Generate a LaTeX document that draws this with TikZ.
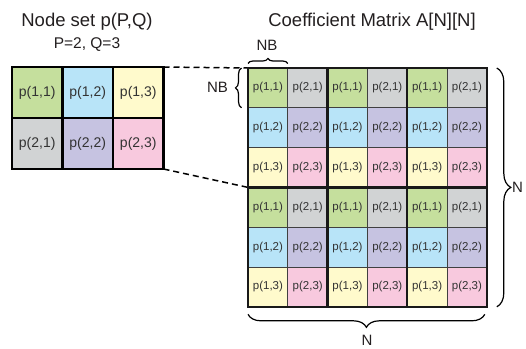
\documentclass[tikz,border=0pt]{standalone}
\usepackage{fontspec}
\setmainfont{Liberation Sans}
\usetikzlibrary{decorations.pathreplacing}
\definecolor{c11}{HTML}{C5DF9D}
\definecolor{c12}{HTML}{B8E4F8}
\definecolor{c13}{HTML}{FFFACC}
\definecolor{c21}{HTML}{D1D3D4}
\definecolor{c22}{HTML}{C6C3E1}
\definecolor{c23}{HTML}{F8C9DE}
\definecolor{txt}{HTML}{333333}
\definecolor{ttl}{HTML}{231F20}
\begin{document}
\begin{tikzpicture}[x=1pt,y=-1pt,
  cellL/.style={draw=black, line width=2.5pt, minimum width=50.5pt, minimum height=51pt,
    inner sep=0pt, outer sep=0pt, font=\fontsize{14}{16}\selectfont, text=txt},
  cellR/.style={draw=black!75, line width=0.8pt, minimum width=39.8pt, minimum height=39.8pt,
    inner sep=0pt, outer sep=0pt, font=\fontsize{11.5}{13}\selectfont, text=txt},
  block/.style={draw=black!90, line width=2.5pt},
  dashline/.style={line width=1.5pt, dash pattern=on 6pt off 4pt},
  brc/.style={decorate, decoration={brace, amplitude=#1}, line width=1.2pt},
  lbl/.style={font=\fontsize{15}{17}\selectfont, text=ttl, inner sep=0pt},
  ttlA/.style={font=\fontsize{18.5}{20}\selectfont, text=ttl, inner sep=0pt},
  ttlB/.style={font=\fontsize{15.5}{17}\selectfont, text=ttl, inner sep=0pt}]
\useasboundingbox (0,0) rectangle (526,348);

% titles
\node[ttlA, anchor=base] (t1) at (87,26) {Node set p(P,Q)};
\node[ttlB, anchor=base] (t2) at (87,48.5) {P=2, Q=3};
\node[ttlA, anchor=base] (t3) at (372,26.5) {Coefficient Matrix A[N][N]};

% left grid
\foreach \i in {1,2}{
  \foreach \j in {1,2,3}{
    \node[cellL, fill=c\i\j] (L-\i-\j) at ({12+50.5*(\j-0.5)},{67+51*(\i-0.5)}) {p(\i,\j)};
  }
}

% right grid
\foreach \c in {0,...,5}{
  \foreach \r in {0,...,5}{
    \pgfmathtruncatemacro{\ii}{mod(\c,2)+1}
    \pgfmathtruncatemacro{\jj}{mod(\r,3)+1}
    \node[cellR, fill=c\ii\jj] (R-\c-\r) at ({248+39.8*(\c+0.5)},{68+39.8*(\r+0.5)}) {p(\ii,\jj)};
  }
}

% dashed connectors
\draw[dashline] (L-1-3.north east) -- (R-0-0.north west);
\draw[dashline] (L-2-3.south east) -- (R-0-2.south west);

% block lines
\draw[block] (R-2-0.north west) -- (R-2-5.south west);
\draw[block] (R-4-0.north west) -- (R-4-5.south west);
\draw[block] (R-0-3.north west) -- (R-5-3.north east);
\draw[block] (R-0-0.north west) rectangle (R-5-5.south east);

% braces
\draw[brc=5pt] ([yshift=4.5pt]R-0-0.north west) -- ([yshift=4.5pt]R-0-0.north east);
\draw[brc=6pt] ([xshift=-6.5pt]R-0-0.south west) -- ([xshift=-6.5pt]R-0-0.north west);
\draw[brc=14pt] ([xshift=10pt]R-5-0.north east) -- ([xshift=10pt]R-5-5.south east);
\draw[brc=13pt] ([yshift=-7.5pt,xshift=-2pt]R-5-5.south east) -- ([yshift=-7.5pt]R-0-5.south west);

% brace labels
\node[lbl, anchor=base] (nbtop) at (267,50) {NB};
\node[lbl] (nbleft) at (217.5,87.5) {NB};
\node[lbl] (nright) at (517.5,187.5) {N};
\node[lbl] (nbottom) at (367,340) {N};
\end{tikzpicture}
\end{document}
